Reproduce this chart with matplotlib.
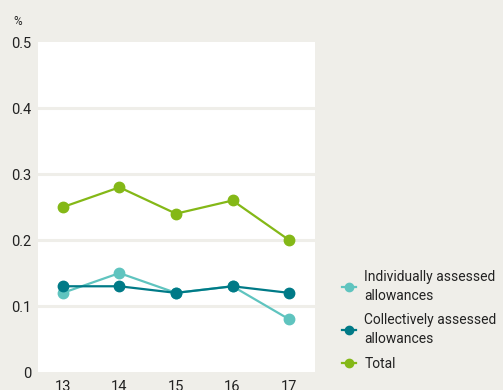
import matplotlib.pyplot as plt
from matplotlib.lines import Line2D

plt.rcParams['font.family'] = ['Roboto', 'DejaVu Sans']

years = [13, 14, 15, 16, 17]
individual = [0.12, 0.15, 0.12, 0.13, 0.08]
collective = [0.13, 0.13, 0.12, 0.13, 0.12]
total = [0.25, 0.28, 0.24, 0.26, 0.20]
labels = ['Individually assessed\nallowances', 'Collectively assessed\nallowances', 'Total']

bg = '#efeee9'
c_ind = '#5fc4bf'
c_col = '#007a87'
c_tot = '#84b817'

fig = plt.figure(figsize=(5.03, 3.90), dpi=100, facecolor=bg)
ax = fig.add_axes([0.0755, 0.046, 0.551, 0.846])
ax.set_facecolor('white')

# grid lines in the background colour
for g in [0.1, 0.2, 0.3, 0.4]:
    ax.axhline(g, color=bg, lw=2.2, zorder=1)

for vals, col in [(individual, c_ind), (collective, c_col), (total, c_tot)]:
    ax.plot(years, vals, color=col, lw=1.6, marker='o', ms=7.5, zorder=3)

ax.set_xlim(12.56, 17.46)
ax.set_ylim(0, 0.5)
ax.set_yticks([0, 0.1, 0.2, 0.3, 0.4, 0.5])
ax.set_yticklabels(['0', '0.1', '0.2', '0.3', '0.4', '0.5'])
ax.set_xticks(years)
ax.tick_params(length=0, labelsize=10.5, colors='#222222', pad=6)
ax.tick_params(axis='y', pad=5)
for s in ax.spines.values():
    s.set_visible(False)

fig.text(0.027, 0.945, '%', fontsize=8.5, color='#222222', ha='left', va='center')

handles = [Line2D([], [], color=c, lw=1.6, marker='o', ms=6) for c in [c_ind, c_col, c_tot]]
leg = fig.legend(handles, labels, loc='upper left', bbox_to_anchor=(0.655, 0.34),
                 frameon=False, fontsize=10, handlelength=1.0, handletextpad=0.6,
                 labelspacing=0.75, labelcolor='#222222')
for t in leg.get_texts():
    t.set_linespacing(1.45)

fig.savefig('out.png', dpi=100, facecolor=bg)
